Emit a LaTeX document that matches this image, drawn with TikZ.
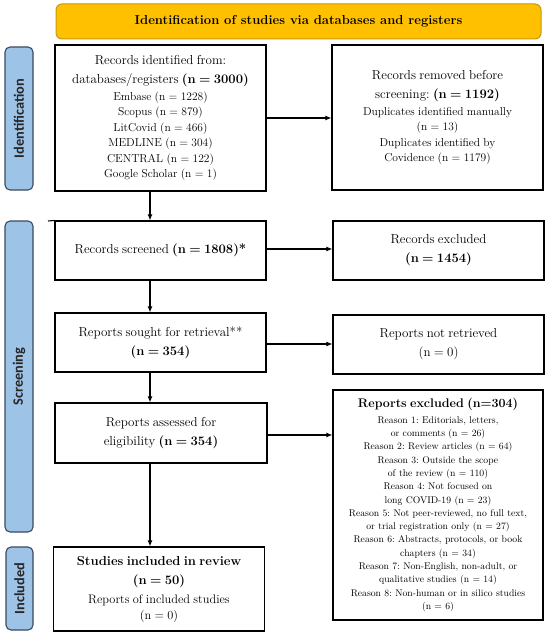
\documentclass[tikz,border=0pt]{standalone}
\usepackage{fontspec}
\newfontfamily\sidefont{Carlito}
\usetikzlibrary{arrows.meta,positioning}
\frenchspacing
\definecolor{bannerfill}{HTML}{FFC000}
\definecolor{bannerdraw}{HTML}{C8960C}
\definecolor{sidefill}{HTML}{9DC3E6}
\definecolor{sidedraw}{HTML}{3A4A5E}
\newcommand{\fbig}{\fontsize{13}{19}\selectfont}
\newcommand{\fsm}{\fontsize{11.5}{15.5}\selectfont}
\newcommand{\fmid}{\fontsize{12.3}{17}\selectfont}
\newcommand{\frs}{\fontsize{9.7}{13.3}\selectfont}
\tikzset{
  pbox/.style={draw=black, line width=1.1pt, fill=white, align=center, inner sep=2pt, text width=205pt},
  sidebar/.style={draw=sidedraw, line width=1.1pt, fill=sidefill, rounded corners=5pt},
  sidelabel/.style={font=\sidefont\bfseries\fontsize{14.3}{16}\selectfont, text=black!85, rotate=90},
  flow/.style={line width=1.1pt, -{Latex[length=6pt,width=5pt]}},
}
\begin{document}
\begin{tikzpicture}[x=1pt,y=-1pt]
\useasboundingbox (0,0) rectangle (550,636);
% banner
\node[draw=bannerdraw, line width=1pt, fill=bannerfill, rounded corners=6pt,
  minimum width=485pt, minimum height=35pt, font=\bfseries\fontsize{13}{15}\selectfont]
  (banner) at (298.5,21.5) {Identification of studies via databases and registers};
% side bars
\node[sidebar, minimum width=28pt, minimum height=143pt] (idbar) at (19,118.5) {};
\node[sidelabel] at (idbar) {Identification};
\node[sidebar, minimum width=28pt, minimum height=311pt] (scrbar) at (19,376.5) {};
\node[sidelabel] at (scrbar) {Screening};
\node[sidebar, minimum width=27pt, minimum height=83pt] (incbar) at (19.5,588.5) {};
\node[sidelabel] at (incbar) {Included};
% boxes
\node[pbox, minimum width=211pt, minimum height=146pt] (ident) at (160.5,118)
  {\fbig Records identified from:\par
   databases/registers \textbf{(n = 3000)}\par
   \fsm\vspace{1.5pt} Embase (n = 1228)\par
   Scopus (n = 879)\par
   LitCovid (n = 466)\par
   MEDLINE (n = 304)\par
   CENTRAL (n = 122)\par
   Google Scholar (n = 1)\par};
\node[pbox, minimum width=211pt, minimum height=145pt] (removed) at (437.5,117.5)
  {\fbig Records removed before\par
   screening: \textbf{(n = 1192)}\par
   \fsm\vspace{1.5pt} Duplicates identified manually\par
   (n = 13)\par
   Duplicates identified by\par
   Covidence (n = 1179)\par\vspace{9pt}};
\node[pbox, minimum width=211pt, minimum height=59pt] (screened) at (160.5,250.5)
  {\fbig Records screened \textbf{(n = 1808)*}\par};
\node[pbox, minimum width=211pt, minimum height=59pt] (excl1) at (438.5,250.5)
  {\fbig Records excluded\par \textbf{(n = 1454)}\par};
\node[pbox, minimum width=211pt, minimum height=59pt] (sought) at (160.5,342.5)
  {\fbig Reports sought for retrieval**\par \textbf{(n = 354)}\par};
\node[pbox, minimum width=211pt, minimum height=59pt] (notret) at (438.5,344.5)
  {\fbig Reports not retrieved\par (n = 0)\par};
\node[pbox, minimum width=212pt, minimum height=60pt] (assessed) at (161,433)
  {\fbig Reports assessed for\par eligibility \textbf{(n = 354)}\par};
\node[pbox, minimum width=210pt, minimum height=230pt] (excl2) at (438,505)
  {\fontsize{12.5}{16}\selectfont\textbf{Reports excluded (n=304)}\par
   \frs\vspace{2.5pt} Reason 1: Editorials, letters,\par
   or comments (n = 26)\par
   Reason 2: Review articles (n = 64)\par
   Reason 3: Outside the scope\par
   of the review (n = 110)\par
   Reason 4: Not focused on\par
   long COVID-19 (n = 23)\par
   Reason 5: Not peer-reviewed, no full text,\par
   or trial registration only (n = 27)\par
   Reason 6: Abstracts, protocols, or book\par
   chapters (n = 34)\par
   Reason 7: Non-English, non-adult, or\par
   qualitative studies (n = 14)\par
   Reason 8: Non-human or in silico studies\par
   (n = 6)\par};
\node[pbox, minimum width=211pt, minimum height=84pt] (included) at (159,589)
  {\fbig\textbf{Studies included in review}\par
   \textbf{(n = 50)}\par
   \fmid\vspace{2pt} Reports of included studies\par
   \vspace{-1pt}(n = 0)\par};
% stray line at top-left of screened box
\coordinate (stray) at (48,221);
\draw[line width=1.1pt] (stray) -- (screened.north west);
% connectors
\coordinate (ax) at (150,0);
\coordinate (s1) at ([yshift=1.5pt]screened.east);
\coordinate (s2) at ([yshift=-1.5pt]sought.east);
\coordinate (s3) at ([yshift=-2pt]assessed.east);
\draw[flow] (ident.south -| ax) -- (screened.north -| ax);
\draw[flow] (screened.south -| ax) -- (sought.north -| ax);
\draw[flow] (sought.south -| ax) -- (assessed.north -| ax);
\draw[flow] (assessed.south -| ax) -- (included.north -| ax);
\draw[flow] (ident.east) -- (removed.west |- ident.east);
\draw[flow] (s1) -- (excl1.west |- s1);
\draw[flow] (s2) -- (notret.west |- s2);
\draw[flow] (s3) -- (excl2.west |- s3);
\end{tikzpicture}
\end{document}
